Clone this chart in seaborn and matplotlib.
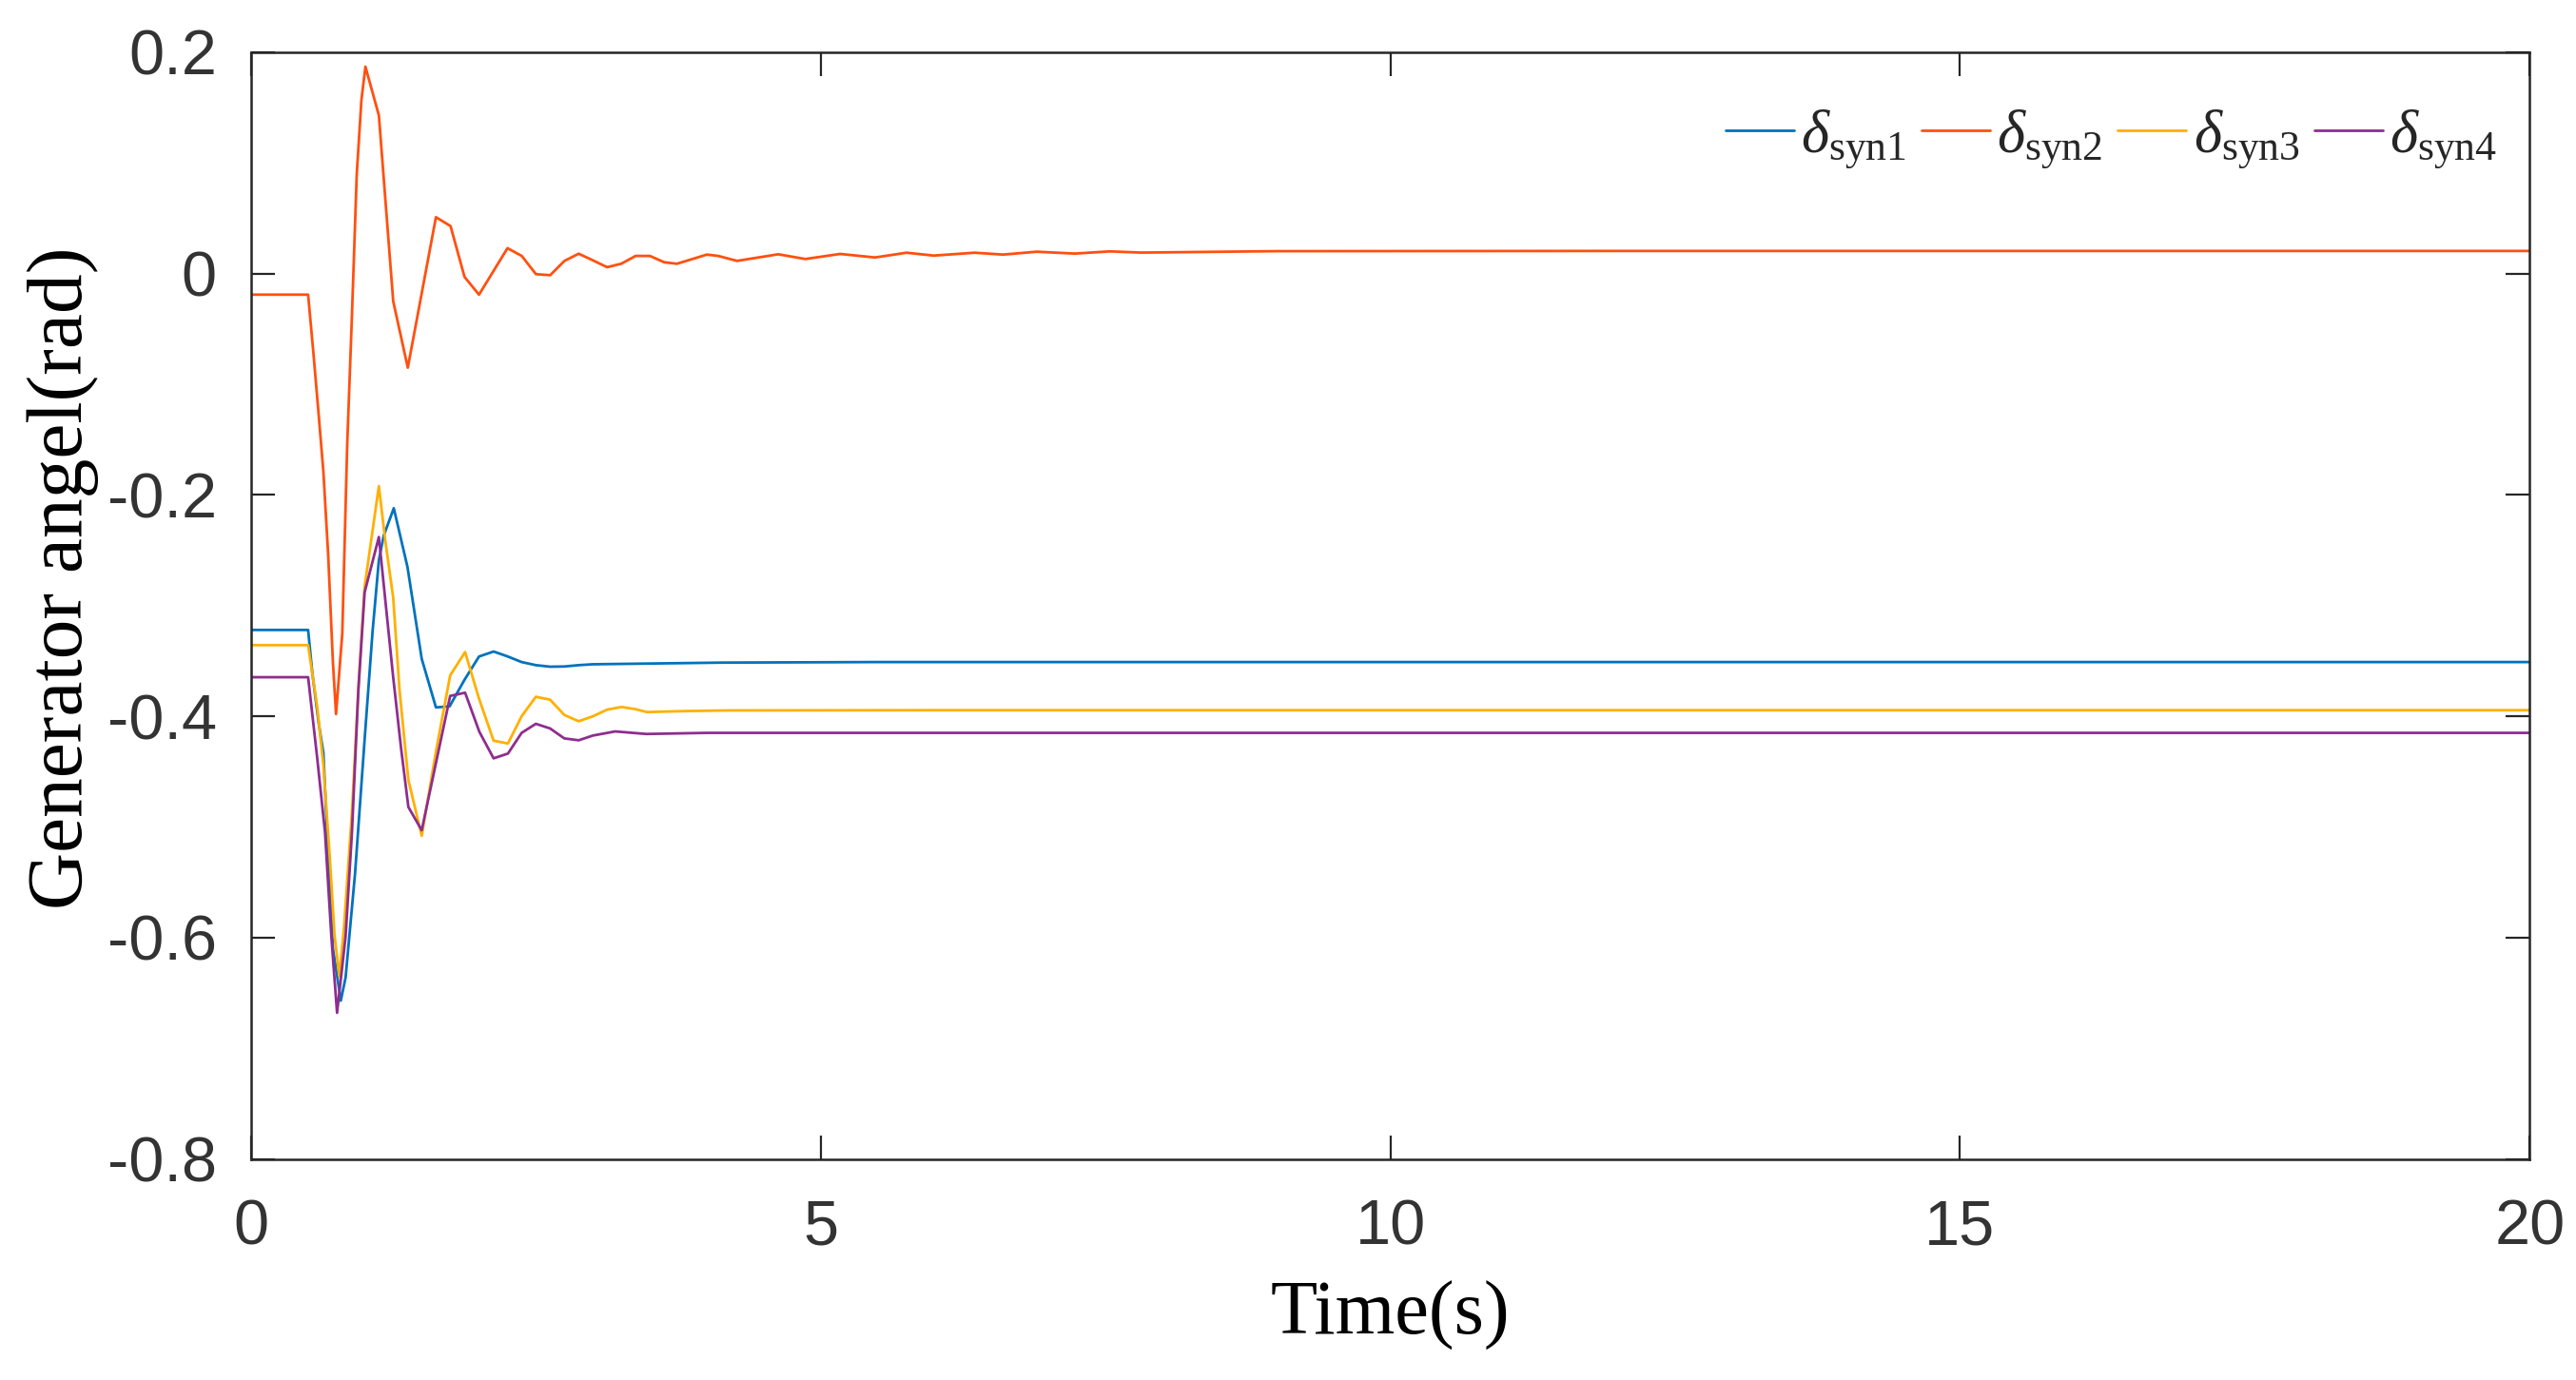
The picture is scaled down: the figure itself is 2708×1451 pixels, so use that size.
import numpy as np
import pandas as pd
import matplotlib
matplotlib.use("Agg")
import matplotlib.pyplot as plt
import seaborn as sns

# ---------------- data ----------------
series_names = [r"$\delta_{\mathrm{syn1}}$", r"$\delta_{\mathrm{syn2}}$",
                r"$\delta_{\mathrm{syn3}}$", r"$\delta_{\mathrm{syn4}}$"]

t_syn1 = [0, 0.5, 0.537, 0.593, 0.634, 0.676, 0.718, 0.787, 0.829, 0.912, 0.996,
          1.066, 1.121, 1.163, 1.252, 1.372, 1.497, 1.622, 1.742, 1.873, 2.0,
          2.128, 2.248, 2.374, 2.499, 2.624, 2.75, 2.875, 3.0, 4.14, 5.5, 20]
v_syn1 = [-0.322, -0.322, -0.361, -0.4065, -0.433, -0.527, -0.610, -0.657, -0.636,
          -0.542, -0.421, -0.323, -0.259, -0.237, -0.212, -0.265, -0.348, -0.392,
          -0.391, -0.367, -0.346, -0.3415, -0.3458, -0.351, -0.3538, -0.3552,
          -0.355, -0.3538, -0.353, -0.3515, -0.351, -0.351]

t_syn2 = [0, 0.5, 0.55, 0.593, 0.634, 0.676, 0.718, 0.745, 0.80, 0.843, 0.885,
          0.927, 0.968, 1.003, 1.121, 1.247, 1.375, 1.622, 1.75, 1.873, 2.0,
          2.25, 2.375, 2.5, 2.625, 2.75, 2.875, 3.0, 3.125, 3.25, 3.375, 3.5,
          3.625, 3.737, 4.0, 4.1, 4.265, 4.627, 4.864, 5.17, 5.476, 5.754, 5.99,
          6.35, 6.6, 6.895, 7.23, 7.535, 7.813, 9.0, 12.0, 20.0]
v_syn2 = [-0.019, -0.019, -0.076, -0.128, -0.179, -0.254, -0.352, -0.398, -0.325,
          -0.155, -0.037, 0.090, 0.157, 0.187, 0.143, -0.025, -0.085, 0.051,
          0.043, -0.003, -0.019, 0.023, 0.016, -0.0005, -0.0014, 0.0115, 0.018,
          0.012, 0.0058, 0.009, 0.016, 0.016, 0.0103, 0.0089, 0.0172, 0.016,
          0.0115, 0.0175, 0.0132, 0.0178, 0.0146, 0.0189, 0.0163, 0.0189, 0.0172,
          0.0198, 0.0181, 0.0201, 0.019, 0.0203, 0.0205, 0.0205]

t_syn3 = [0, 0.5, 0.579, 0.634, 0.69, 0.732, 0.774, 0.815, 0.885, 0.941, 0.996,
          1.121, 1.177, 1.247, 1.302, 1.38, 1.497, 1.622, 1.747, 1.878, 2.0,
          2.128, 2.254, 2.374, 2.499, 2.624, 2.749, 2.875, 3.0, 3.125, 3.25,
          3.375, 3.473, 3.81, 4.2, 6.0, 20.0]
v_syn3 = [-0.3357, -0.3357, -0.391, -0.444, -0.527, -0.598, -0.635, -0.591, -0.486,
          -0.376, -0.283, -0.192, -0.241, -0.293, -0.376, -0.4575, -0.508, -0.432,
          -0.363, -0.342, -0.384, -0.422, -0.4246, -0.400, -0.3824, -0.385,
          -0.3988, -0.4045, -0.400, -0.394, -0.3916, -0.3936, -0.3962, -0.3953,
          -0.3947, -0.3945, -0.3945]

t_syn4 = [0, 0.5, 0.579, 0.648, 0.704, 0.754, 0.829, 0.885, 0.941, 0.996, 1.121,
          1.247, 1.316, 1.38, 1.497, 1.747, 1.878, 2.003, 2.128, 2.254, 2.374,
          2.499, 2.624, 2.749, 2.875, 3.0, 3.195, 3.47, 4.0, 20.0]
v_syn4 = [-0.3647, -0.3647, -0.437, -0.5045, -0.599, -0.668, -0.599, -0.5045,
          -0.376, -0.288, -0.238, -0.365, -0.429, -0.482, -0.503, -0.3816,
          -0.3787, -0.414, -0.438, -0.4337, -0.415, -0.4068, -0.411, -0.420,
          -0.4217, -0.4174, -0.4137, -0.416, -0.415, -0.415]

x_ticks = [0, 5, 10, 15, 20]
x_tick_labels = ["0", "5", "10", "15", "20"]
y_ticks = [-0.8, -0.6, -0.4, -0.2, 0, 0.2]
y_tick_labels = ["-0.8", "-0.6", "-0.4", "-0.2", "0", "0.2"]

colors = ["#0072BD", "#FF5010", "#FFB000", "#8E2D8F"]

# ---------------- build long table ----------------
frames = []
for name, tt, vv in zip(series_names, [t_syn1, t_syn2, t_syn3, t_syn4],
                        [v_syn1, v_syn2, v_syn3, v_syn4]):
    frames.append(pd.DataFrame({"t": tt, "v": vv, "series": name}))
df = pd.concat(frames, ignore_index=True)

# ---------------- style ----------------
sns.set_theme(style="white")
plt.rcParams["font.family"] = ["Liberation Sans", "DejaVu Sans"]
plt.rcParams["axes.unicode_minus"] = False
plt.rcParams["mathtext.fontset"] = "custom"
plt.rcParams["mathtext.rm"] = "Liberation Serif"
plt.rcParams["mathtext.it"] = "Liberation Serif:italic"

DPI = 100
fig = plt.figure(figsize=(27.08, 14.51), dpi=DPI)
ax = fig.add_axes([0.0975, 0.1602, 0.8845, 0.8019])

sns.lineplot(data=df, x="t", y="v", hue="series", hue_order=series_names,
             palette=colors, estimator=None, sort=False, linewidth=2.0, ax=ax)

ax.set_xlim(0, 20)
ax.set_ylim(-0.8, 0.2)
ax.set_xticks(x_ticks)
ax.set_xticklabels(x_tick_labels)
ax.set_yticks(y_ticks)
ax.set_yticklabels(y_tick_labels)

dark = "#262626"
for sp in ax.spines.values():
    sp.set_visible(True)
    sp.set_color(dark)
    sp.set_linewidth(1.8)

ax.tick_params(axis="both", which="major", direction="in", length=18, width=1.6,
               color=dark, labelcolor="#333333", labelsize=48,
               top=True, right=True, bottom=True, left=True)
ax.tick_params(axis="x", pad=30)
ax.tick_params(axis="y", pad=26)

ax.set_xlabel("Time(s)", family="Liberation Serif", fontsize=58, color="black",
              labelpad=18)
ax.set_ylabel("Generator angel(rad)", family="Liberation Serif", fontsize=60,
              color="black")
ax.yaxis.set_label_coords(-0.067, 0.525)

handles, labels = ax.get_legend_handles_labels()
if ax.get_legend() is not None:
    ax.get_legend().remove()
leg = ax.legend(handles, labels, loc="center", bbox_to_anchor=(0.8165, 0.922),
                ncol=4, frameon=False, fontsize=45, handlelength=1.15,
                handletextpad=0.12, columnspacing=0.25, borderaxespad=0)
for lh in leg.get_lines():
    lh.set_linewidth(2.0)

fig.savefig("out.png", dpi=DPI, facecolor="white")
